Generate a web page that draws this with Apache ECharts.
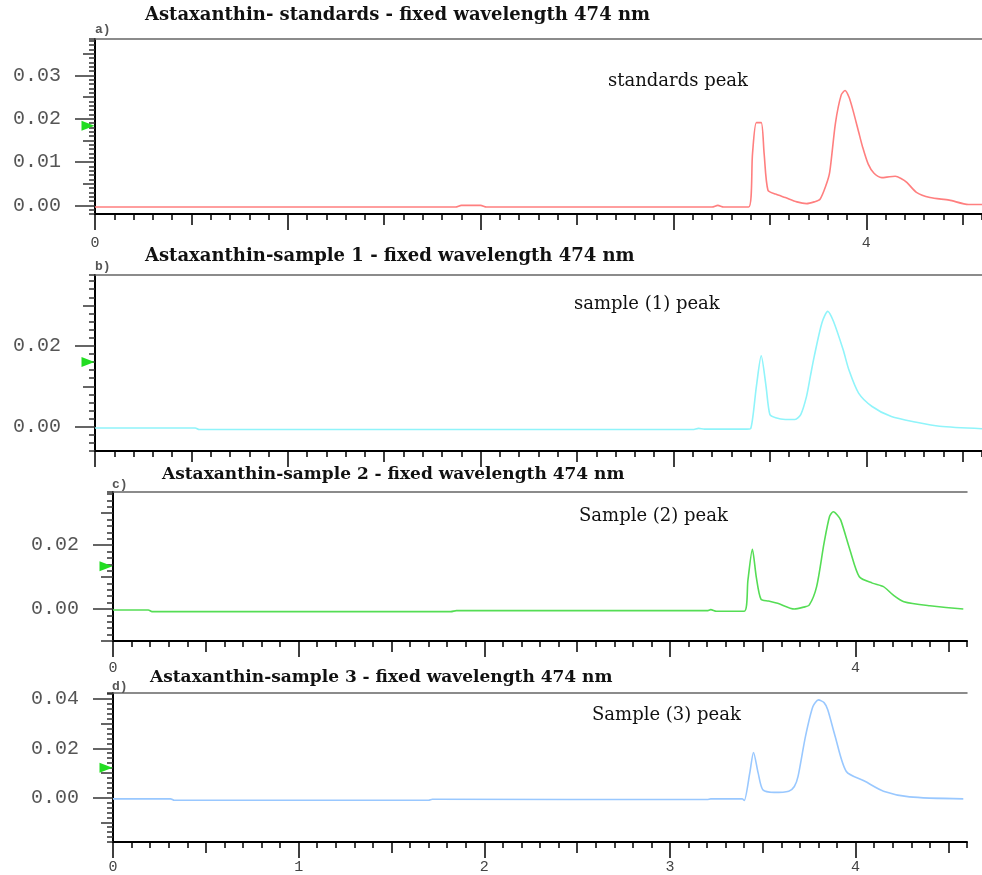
<!DOCTYPE html>
<html>
<head>
<meta charset="utf-8">
<script src="https://cdn.jsdelivr.net/npm/echarts@6/dist/echarts.min.js"></script>
<style>
  html, body { margin: 0; padding: 0; background: #fff; }
  #chart-1 { width: 982px; height: 875px; }
</style>
</head>
<body>
<div id="chart-1"></div>
<script>
/** data (time in min, absorbance in AU) **/
var stdTime = [0, 1.87, 1.9, 2.0, 2.03, 3.2, 3.23, 3.26, 3.39, 3.41, 3.43, 3.455, 3.47, 3.49, 3.53, 3.58, 3.64, 3.69, 3.73, 3.76, 3.79, 3.81, 3.84, 3.87, 3.89, 3.91, 3.93, 3.96, 3.98, 4.01, 4.04, 4.08, 4.12, 4.15, 4.18, 4.21, 4.26, 4.33, 4.43, 4.53, 4.6];
var stdAbs = [-0.0004, -0.0004, 0, 0, -0.0004, -0.0004, 0, -0.0004, -0.0004, 0.012, 0.0191, 0.0191, 0.012, 0.0035, 0.0026, 0.0018, 0.0008, 0.0004, 0.0008, 0.0014, 0.0045, 0.0076, 0.019, 0.0255, 0.0265, 0.025, 0.0221, 0.017, 0.0136, 0.0095, 0.0074, 0.0064, 0.0066, 0.0067, 0.0062, 0.0053, 0.003, 0.0018, 0.0012, 0.0002, 0.0002];

var s1Time = [0, 0.52, 0.54, 3.1, 3.13, 3.16, 3.38, 3.40, 3.43, 3.455, 3.48, 3.50, 3.53, 3.58, 3.63, 3.66, 3.69, 3.71, 3.73, 3.77, 3.80, 3.83, 3.88, 3.91, 3.96, 4.03, 4.13, 4.26, 4.38, 4.6];
var s1Abs = [-0.0003, -0.0003, -0.0007, -0.0007, -0.0004, -0.0006, -0.0006, -0.0005, 0.010, 0.0175, 0.010, 0.003, 0.0022, 0.0018, 0.0018, 0.003, 0.0075, 0.0125, 0.0174, 0.0257, 0.0285, 0.026, 0.019, 0.014, 0.0083, 0.005, 0.0025, 0.0011, 0.0001, -0.0005];

var s2Time = [0, 0.19, 0.21, 1.82, 1.85, 3.2, 3.22, 3.25, 3.40, 3.42, 3.444, 3.465, 3.49, 3.53, 3.58, 3.67, 3.72, 3.75, 3.79, 3.83, 3.86, 3.88, 3.90, 3.92, 3.97, 4.02, 4.09, 4.15, 4.20, 4.26, 4.40, 4.58];
var s2Abs = [-0.0003, -0.0003, -0.0008, -0.0008, -0.0005, -0.0005, -0.0002, -0.0007, -0.0007, 0.009, 0.0187, 0.010, 0.0031, 0.0025, 0.0018, 0.0, 0.0006, 0.0012, 0.007, 0.0206, 0.029, 0.0304, 0.0295, 0.0278, 0.0184, 0.0101, 0.0081, 0.007, 0.0045, 0.0023, 0.001, 0.0];

var s3Time = [0, 0.31, 0.33, 1.70, 1.72, 3.2, 3.22, 3.39, 3.40, 3.43, 3.45, 3.475, 3.50, 3.56, 3.64, 3.67, 3.69, 3.73, 3.77, 3.80, 3.83, 3.85, 3.89, 3.95, 4.05, 4.15, 4.29, 4.58];
var s3Abs = [-0.0005, -0.0005, -0.0011, -0.0011, -0.0007, -0.0008, -0.0005, -0.0005, -0.0012, 0.010, 0.0183, 0.010, 0.0032, 0.0021, 0.0026, 0.0045, 0.0086, 0.0248, 0.0369, 0.0396, 0.0385, 0.0356, 0.0248, 0.0106, 0.0066, 0.0026, 0.0003, -0.0005];

// green level markers on the y axis
var levelMarks = [0.0184, 0.016, 0.0134, 0.0121];

// tick / label values
var xMajorTicks = [0, 1, 2, 3, 4];
var xMidTicks = [0.5, 1.5, 2.5, 3.5, 4.5];
var xLabelsA = [0, 4];
var xLabelsC = [0, 4];
var xLabelsD = [0, 1, 2, 3, 4];
var yLabelsA = [0, 0.01, 0.02, 0.03];
var yMidA = [0.005, 0.015, 0.025, 0.035];
var yLabelsB = [0, 0.02];
var yMidB = [0.01, 0.03];
var yLabelsC = [0, 0.02];
var yMidC = [-0.01, 0.01, 0.03];
var yLabelsD = [0, 0.02, 0.04];
var yMidD = [-0.01, 0.01, 0.03];

var titles = [
  "Astaxanthin- standards - fixed wavelength 474 nm",
  "Astaxanthin-sample 1 - fixed wavelength 474 nm",
  "Astaxanthin-sample 2 - fixed wavelength 474 nm",
  "Astaxanthin-sample 3 - fixed wavelength 474 nm",
];
var panelTags = ["a)", "b)", "c)", "d)"];
var peakNotes = ["standards peak", "sample (1) peak", "Sample (2) peak", "Sample (3) peak"];

function zip(xs, ys) {
  return xs.map(function (x, i) { return [x, ys[i]]; });
}

var panels = [
  { grid: { left: 95, top: 39, right: 0, height: 175 }, yMin: -0.002, yMax: 0.0384, yMinor: 0.001,
    yLabels: yLabelsA, yMid: yMidA, xLabels: xLabelsA, xMargin: 22, color: "#ff7f7f", data: zip(stdTime, stdAbs),
    title: { left: 145, top: 6, size: 18 }, tag: { left: 95, top: 23 }, note: { left: 608, top: 72 } },
  { grid: { left: 95, top: 275, right: 0, height: 176 }, yMin: -0.006, yMax: 0.0375, yMinor: 0.002,
    yLabels: yLabelsB, yMid: yMidB, xLabels: null, xMargin: 22, color: "#90f4fa", data: zip(s1Time, s1Abs),
    title: { left: 145, top: 247, size: 18 }, tag: { left: 95, top: 260 }, note: { left: 574, top: 295 } },
  { grid: { left: 113, top: 492, right: 15, height: 149 }, yMin: -0.01, yMax: 0.0366, yMinor: 0.002,
    yLabels: yLabelsC, yMid: yMidC, xLabels: xLabelsC, xMargin: 20, color: "#55dd55", data: zip(s2Time, s2Abs),
    title: { left: 162, top: 466, size: 17 }, tag: { left: 112, top: 478 }, note: { left: 579, top: 507 } },
  { grid: { left: 113, top: 693, right: 15, height: 149.5 }, yMin: -0.018, yMax: 0.0424, yMinor: 0.002,
    yLabels: yLabelsD, yMid: yMidD, xLabels: xLabelsD, xMargin: 18, color: "#99c8ff", data: zip(s3Time, s3Abs),
    title: { left: 150, top: 669, size: 17 }, tag: { left: 112, top: 680 }, note: { left: 592, top: 706 } },
];

var option = {
  animation: false,
  backgroundColor: "#fff",
  title: [],
  grid: [],
  xAxis: [],
  yAxis: [],
  series: [],
};

var hiddenLine = { show: false, onZero: false };

panels.forEach(function (p, i) {
  option.grid.push(p.grid);
  var xBase = option.xAxis.length;
  var yBase = option.yAxis.length;

  // main x axis: integer ticks and labels
  option.xAxis.push({
    type: "value", gridIndex: i, min: 0, max: 4.6, position: "bottom",
    axisLine: { show: true, onZero: false, lineStyle: { color: "#000", width: 2 } },
    axisTick: { show: true, length: 16, customValues: xMajorTicks, lineStyle: { color: "#000", width: 1.5 } },
    axisLabel: p.xLabels
      ? { show: true, customValues: p.xLabels, margin: p.xMargin, color: "#444", fontFamily: "Liberation Mono", fontSize: 15 }
      : { show: false },
    splitLine: { show: false },
  });
  // half ticks
  option.xAxis.push({
    type: "value", gridIndex: i, min: 0, max: 4.6, position: "bottom",
    axisLine: hiddenLine,
    axisTick: { show: true, length: 11, customValues: xMidTicks, lineStyle: { color: "#000", width: 1.5 } },
    axisLabel: { show: false },
    splitLine: { show: false },
  });
  // minor ticks every 0.1
  option.xAxis.push({
    type: "value", gridIndex: i, min: 0, max: 4.6, interval: 0.1, position: "bottom",
    axisLine: hiddenLine,
    axisTick: { show: true, length: 6, lineStyle: { color: "#000", width: 1.5 } },
    axisLabel: { show: false },
    splitLine: { show: false },
  });
  // top border
  option.xAxis.push({
    type: "value", gridIndex: i, min: 0, max: 4.6, position: "top",
    axisLine: { show: true, onZero: false, lineStyle: { color: "#666", width: 1.5 } },
    axisTick: { show: false },
    axisLabel: { show: false },
    splitLine: { show: false },
  });

  // main y axis
  option.yAxis.push({
    type: "value", gridIndex: i, min: p.yMin, max: p.yMax, position: "left",
    axisLine: { show: true, onZero: false, lineStyle: { color: "#000", width: 2 } },
    axisTick: { show: true, length: 20, customValues: p.yLabels, lineStyle: { color: "#333", width: 1.5 } },
    axisLabel: {
      show: true, customValues: p.yLabels, margin: 34, color: "#555",
      fontFamily: "Liberation Mono", fontSize: 20,
      formatter: function (v) { return Number(v).toFixed(2); },
    },
    splitLine: { show: false },
  });
  option.yAxis.push({
    type: "value", gridIndex: i, min: p.yMin, max: p.yMax, position: "left",
    axisLine: hiddenLine,
    axisTick: { show: true, length: 12, customValues: p.yMid, lineStyle: { color: "#333", width: 1.5 } },
    axisLabel: { show: false },
    splitLine: { show: false },
  });
  option.yAxis.push({
    type: "value", gridIndex: i, min: p.yMin, max: p.yMax, interval: p.yMinor, position: "left",
    axisLine: hiddenLine,
    axisTick: { show: true, length: 6, lineStyle: { color: "#333", width: 1.5 } },
    axisLabel: { show: false },
    splitLine: { show: false },
  });

  option.series.push({
    type: "line",
    xAxisIndex: xBase,
    yAxisIndex: yBase,
    data: p.data,
    showSymbol: false,
    smooth: 0.25,
    lineStyle: { color: p.color, width: 1.6 },
    silent: true,
    markPoint: {
      symbol: "triangle",
      symbolSize: [10, 13],
      symbolRotate: -90,
      symbolOffset: [-7, 0],
      itemStyle: { color: "#22dd22" },
      label: { show: false },
      data: [{ coord: [0, levelMarks[i]] }],
    },
  });

  option.title.push({
    text: titles[i], left: p.title.left, top: p.title.top, padding: 0,
    textStyle: { fontFamily: "DejaVu Serif", fontWeight: "bold", fontSize: p.title.size, color: "#111" },
  });
  option.title.push({
    text: panelTags[i], left: p.tag.left, top: p.tag.top, padding: 0,
    textStyle: { fontFamily: "Liberation Mono", fontWeight: "bold", fontSize: 13, color: "#555" },
  });
  option.title.push({
    text: peakNotes[i], left: p.note.left, top: p.note.top, padding: 0,
    textStyle: { fontFamily: "DejaVu Serif", fontWeight: "normal", fontSize: 18, color: "#111" },
  });
});

var dom = document.getElementById("chart-1");
var Chart1 = echarts.init(dom, null, { renderer: "canvas" });
Chart1.setOption(option);
window.addEventListener("resize", Chart1.resize);
</script>
</body>
</html>
